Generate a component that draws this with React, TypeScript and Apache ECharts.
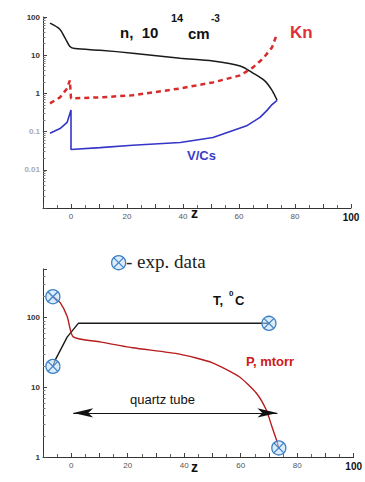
import React, { useEffect, useRef } from "react";
import * as echarts from "echarts";

// ---- Top panel data (z, values) ----
const nZ = [-7.5, -4, -2.1, -0.4, 1.4, 10.4, 22, 39, 50.7, 60.4, 65, 69.3, 71.8, 73.6];
const nVal = [69, 48, 28, 17, 15, 13.5, 11.3, 8.3, 7, 5.2, 3.4, 2.1, 1.2, 0.66];

const knZ = [-7.5, -3.9, -1.4, -0.4, 0, 10.4, 22, 39, 50.7, 60.4, 65, 68.6, 71.8, 73.6];
const knVal = [0.55, 0.79, 1.35, 2.2, 0.74, 0.79, 0.89, 1.35, 1.94, 2.96, 4.8, 8.2, 16, 37];

const vZ = [-7.5, -3.9, -1.4, 0, 0, 10.4, 22, 39, 50.7, 63, 67.5, 70, 71.8, 73.6];
const vVal = [0.09, 0.12, 0.174, 0.37, 0.034, 0.038, 0.044, 0.052, 0.07, 0.145, 0.235, 0.36, 0.51, 0.66];

// ---- Bottom panel data ----
const tZ = [-6.5, -5.6, -1.4, 2.5, 70];
const tVal = [20, 25, 53, 83, 83];

const pZ = [-6.3, -3.9, -1.4, 0.7, 10.2, 21.8, 38.4, 50, 59.5, 65.5, 69, 71.1, 72.9, 73.4];
const pVal = [200, 164, 103, 53, 45, 37, 30, 22.5, 14.2, 8.3, 4.8, 2.7, 1.65, 1.35];

const expZ = [-6.5, -6.5, 70, 73.5];
const expVal = [200, 20, 83, 1.35];

// tube arrow (z from, z to, level)
const tubeZ = [0.7, 73];
const tubeLevel = 4.3;

// ---- tick labels ----
const xTickLabels = ["0", "20", "40", "60", "80", "100"];
const yTopLabels = ["100", "10", "1", "0.1", "0.01"];
const yTopFaint = ["0.1", "0.01"];
const yBottomLabels = ["100", "10", "1"];

const FONT = "Liberation Sans, Arial, sans-serif";

function pairs(xs: number[], ys: number[]) {
  return xs.map((x, i) => [x, ys[i]]);
}

function xAxis(gridIndex: number) {
  return {
    type: "value",
    gridIndex,
    min: -10,
    max: 100,
    interval: 10,
    axisLine: { show: true, onZero: false, lineStyle: { color: "#333", width: 1 } },
    splitLine: { show: false },
    axisTick: { show: true, inside: true, length: 4, lineStyle: { color: "#444", width: 1 } },
    minorTick: { show: true, splitNumber: 2, length: 3, lineStyle: { color: "#666", width: 1 } },
    axisLabel: {
      show: true,
      margin: 4,
      fontSize: 8,
      color: "#555",
      fontFamily: FONT,
      formatter: (v: number) => {
        const r = Math.round(v);
        if (Math.abs(v - r) > 1e-6) return "";
        const s = String(r);
        if (!xTickLabels.includes(s)) return "";
        if (s === "100") return "{b|100}";
        return s;
      },
      rich: {
        b: { fontSize: 10, fontWeight: "bold", color: "#111", fontFamily: FONT },
      },
    },
  };
}

function yAxis(gridIndex: number, min: number, max: number, labels: string[], faint: string[]) {
  return {
    type: "log",
    logBase: 10,
    gridIndex,
    min,
    max,
    axisLine: { show: true, onZero: false, lineStyle: { color: "#333", width: 1 } },
    splitLine: { show: false },
    axisTick: { show: true, inside: true, length: 4, lineStyle: { color: "#444", width: 1 } },
    minorTick: { show: true, splitNumber: 9, length: 2.5, lineStyle: { color: "#777", width: 1 } },
    axisLabel: {
      margin: 3,
      fontSize: 8,
      fontWeight: "bold",
      color: "#333",
      fontFamily: FONT,
      formatter: (v: number) => {
        const s = String(v);
        if (!labels.includes(s)) return "";
        return faint.includes(s) ? "{f|" + s + "}" : s;
      },
      rich: { f: { color: "#aaa", fontSize: 8, fontFamily: FONT } },
    },
  };
}

function expSymbol(cx: number, cy: number, r: number) {
  const d = r * 0.68;
  const c = "#3d7fc4";
  return [
    { type: "circle", shape: { cx, cy, r }, style: { fill: "rgba(190,220,245,0.55)", stroke: c, lineWidth: 1.3 } },
    { type: "line", shape: { x1: cx - d, y1: cy - d, x2: cx + d, y2: cy + d }, style: { stroke: c, lineWidth: 1.2 } },
    { type: "line", shape: { x1: cx - d, y1: cy + d, x2: cx + d, y2: cy - d }, style: { stroke: c, lineWidth: 1.2 } },
  ];
}

export default function App() {
  const ref = useRef<HTMLDivElement>(null);

  useEffect(() => {
    if (!ref.current) return;
    const chart = echarts.init(ref.current, undefined, { renderer: "svg" });
    const option: any = {
      animation: false,
      backgroundColor: "#ffffff",
      grid: [
        { left: 43, top: 17, width: 308, height: 191 },
        { left: 43, top: 269, width: 312, height: 188 },
      ],
      xAxis: [xAxis(0), xAxis(1)],
      yAxis: [
        yAxis(0, 0.001, 100, yTopLabels, yTopFaint),
        yAxis(1, 1, 500, yBottomLabels, []),
      ],
      series: [
        {
          name: "n",
          type: "line",
          xAxisIndex: 0,
          yAxisIndex: 0,
          data: pairs(nZ, nVal),
          showSymbol: false,
          smooth: 0.3,
          lineStyle: { color: "#1a1a1a", width: 1.5 },
        },
        {
          name: "Kn",
          type: "line",
          xAxisIndex: 0,
          yAxisIndex: 0,
          data: pairs(knZ, knVal),
          showSymbol: false,
          lineStyle: { color: "#d92b2b", width: 2.5, type: [5, 4] },
        },
        {
          name: "V/Cs",
          type: "line",
          xAxisIndex: 0,
          yAxisIndex: 0,
          data: pairs(vZ, vVal),
          showSymbol: false,
          lineStyle: { color: "#3535c8", width: 1.6 },
        },
        {
          name: "T",
          type: "line",
          xAxisIndex: 1,
          yAxisIndex: 1,
          data: pairs(tZ, tVal),
          showSymbol: false,
          lineStyle: { color: "#1a1a1a", width: 1.4 },
        },
        {
          name: "P",
          type: "line",
          xAxisIndex: 1,
          yAxisIndex: 1,
          data: pairs(pZ, pVal),
          showSymbol: false,
          smooth: 0.2,
          lineStyle: { color: "#b81c1c", width: 1.4 },
          markLine: {
            silent: true,
            symbol: ["arrow", "arrow"],
            symbolSize: [7, 20],
            label: { show: false },
            lineStyle: { color: "#111", width: 1.2, type: "solid" },
            data: [[{ coord: [tubeZ[0], tubeLevel] }, { coord: [tubeZ[1], tubeLevel] }]],
          },
        },
        {
          name: "exp. data",
          type: "custom",
          xAxisIndex: 1,
          yAxisIndex: 1,
          z: 5,
          data: pairs(expZ, expVal),
          encode: { x: 0, y: 1 },
          renderItem: (params: any, api: any) => {
            const p = api.coord([api.value(0), api.value(1)]);
            return { type: "group", children: expSymbol(p[0], p[1], 7) };
          },
        },
      ],
      graphic: [
        // top panel annotations
        { type: "text", left: 120, top: 25, style: { text: "n,  10", font: "bold 15px " + FONT, fill: "#111" } },
        { type: "text", left: 171, top: 12, style: { text: "14", font: "bold 11px " + FONT, fill: "#111" } },
        { type: "text", left: 188, top: 26, style: { text: "cm", font: "bold 15px " + FONT, fill: "#111" } },
        { type: "text", left: 211, top: 13, style: { text: "-3", font: "bold 10px " + FONT, fill: "#111" } },
        { type: "text", left: 290, top: 24, style: { text: "Kn", font: "bold 17px " + FONT, fill: "#e0303a" } },
        { type: "text", left: 187, top: 149, style: { text: "V/Cs", font: "bold 13px " + FONT, fill: "#3b3bc8" } },
        { type: "text", left: 191, top: 206, style: { text: "z", font: "bold 14px " + FONT, fill: "#111" } },
        // legend for exp data
        { type: "group", left: 111, top: 255, children: expSymbol(7, 7, 7) },
        { type: "text", left: 126, top: 252, style: { text: "- exp. data", font: "19px Liberation Serif, serif", fill: "#222" } },
        // bottom panel annotations
        { type: "text", left: 213, top: 294, style: { text: "T,", font: "bold 13px " + FONT, fill: "#111" } },
        { type: "text", left: 229, top: 289, style: { text: "0", font: "bold 8px " + FONT, fill: "#111" } },
        { type: "text", left: 235, top: 294, style: { text: "C", font: "bold 13px " + FONT, fill: "#111" } },
        { type: "text", left: 246, top: 355, style: { text: "P, mtorr", font: "bold 13px " + FONT, fill: "#d01818" } },
        { type: "text", left: 130, top: 393, style: { text: "quartz tube", font: "13px " + FONT, fill: "#111" } },
        { type: "text", left: 191, top: 460, style: { text: "z", font: "bold 14px " + FONT, fill: "#111" } },
      ],
    };
    chart.setOption(option);
    return () => chart.dispose();
  }, []);

  return (
    <div
      ref={ref}
      style={{ position: "absolute", left: 0, top: 0, width: 365, height: 482, background: "#fff" }}
    />
  );
}
